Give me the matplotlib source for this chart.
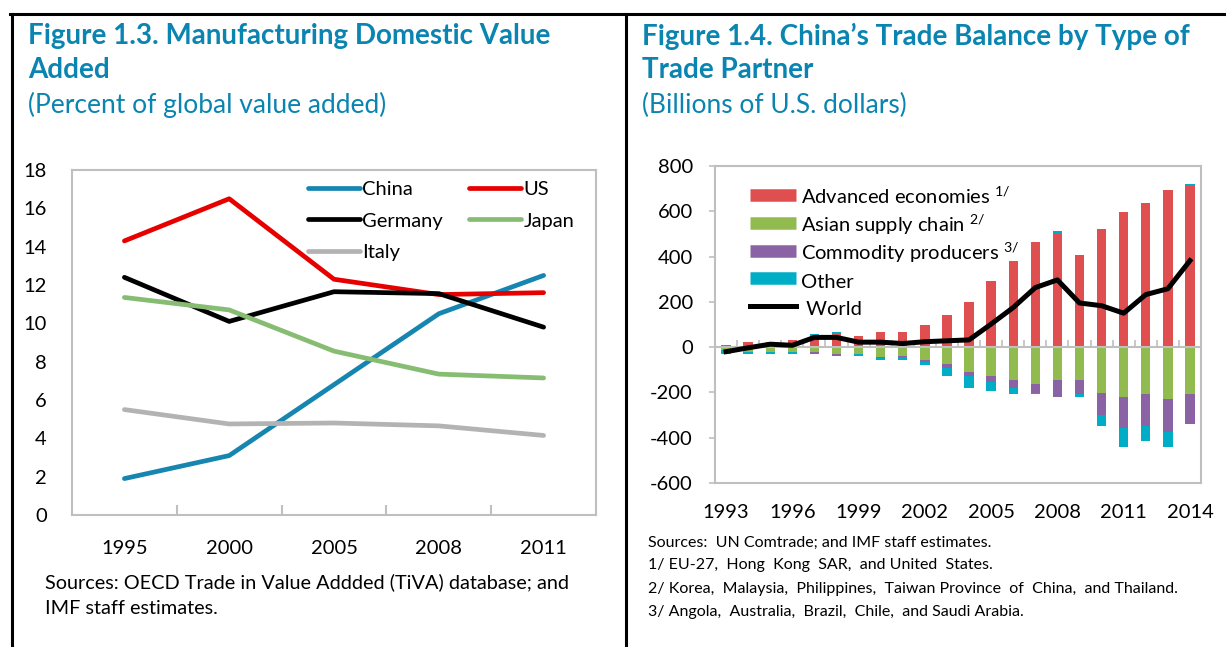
import matplotlib
matplotlib.use('Agg')
import matplotlib.pyplot as plt
import numpy as np
from matplotlib.lines import Line2D

plt.rcParams['font.family'] = ['Lato', 'DejaVu Sans']
plt.rcParams['mathtext.fontset'] = 'custom'
plt.rcParams['mathtext.rm'] = 'Lato'
plt.rcParams['mathtext.it'] = 'Lato:italic'
plt.rcParams['axes.unicode_minus'] = False

# ---------------- data: Figure 1.3 ----------------
left_years = ['1995', '2000', '2005', '2008', '2011']
china = [1.9, 3.1, 6.8, 10.5, 12.5]
us = [14.3, 16.5, 12.3, 11.5, 11.6]
germany = [12.4, 10.1, 11.65, 11.55, 9.8]
japan = [11.35, 10.7, 8.55, 7.35, 7.15]
italy = [5.5, 4.75, 4.8, 4.65, 4.15]
left_yticks = [0, 2, 4, 6, 8, 10, 12, 14, 16, 18]

# ---------------- data: Figure 1.4 ----------------
right_years = list(range(1993, 2015))
advanced = [9, 22, 24, 33, 48, 58, 50, 66, 66, 100, 143, 200, 291, 382, 464, 505, 405, 521, 595, 635, 692, 711]
other_pos = [0, 0, 0, 0, 10, 8, 0, 0, 0, 0, 0, 0, 0, 0, 0, 9, 0, 0, 0, 0, 0, 9]
asian = [-12, -20, -21, -21, -23, -31, -31, -42, -40, -57, -76, -110, -127, -145, -161, -145, -145, -202, -218, -209, -227, -209]
commodity = [0, 0, 0, 0, -8, -7, 0, -6, -5, -7, -18, -18, -25, -34, -42, -73, -63, -98, -139, -139, -148, -130]
other_neg = [-18, -12, -11, -11, 0, 0, -9, -8, -10, -15, -34, -51, -41, -29, -6, 0, -10, -50, -82, -67, -64, 0]
world = [-20, -3, 13, 8, 43, 43, 22, 22, 16, 24, 28, 32, 102, 175, 263, 297, 195, 183, 150, 232, 258, 382]
right_yticks = [-600, -400, -200, 0, 200, 400, 600, 800]
right_xlabels_every = 3

TITLE_C = '#0a84b0'
GRID_C = '#bfbfbf'
FS = 14.5

fig = plt.figure(figsize=(12.26, 6.47), dpi=100)


def fx(px):
    return px / 1226


def fy(py):
    return 1 - py / 647


# panel borders
fig.add_artist(Line2D([fx(10), 1.0], [fy(14)] * 2, color='black', lw=2.2, transform=fig.transFigure))
fig.add_artist(Line2D([fx(12)] * 2, [0, fy(14)], color='black', lw=2.2, transform=fig.transFigure))
fig.add_artist(Line2D([fx(626)] * 2, [0, fy(14)], color='black', lw=2.2, transform=fig.transFigure))

# titles
TFS = 20
SFS = 19
fig.text(fx(28), fy(36), 'Figure 1.3. Manufacturing Domestic Value', color=TITLE_C, fontsize=TFS,
         fontweight='bold', va='center', ha='left')
fig.text(fx(28), fy(70), 'Added', color=TITLE_C, fontsize=TFS, fontweight='bold', va='center', ha='left')
fig.text(fx(28), fy(105), '(Percent of global value added)', color=TITLE_C, fontsize=SFS, va='center', ha='left')

fig.text(fx(642), fy(36), 'Figure 1.4. China\u2019s Trade Balance by Type of', color=TITLE_C, fontsize=TFS,
         fontweight='bold', va='center', ha='left')
fig.text(fx(642), fy(70), 'Trade Partner', color=TITLE_C, fontsize=TFS, fontweight='bold', va='center', ha='left')
fig.text(fx(642), fy(105), '(Billions of U.S. dollars)', color=TITLE_C, fontsize=SFS, va='center', ha='left')

# ---------------- left chart ----------------
axL = fig.add_axes([fx(72), fy(515), fx(596 - 72), (515 - 170) / 647])
xl = np.arange(len(left_years))
series = [('China', china, '#1686b0'), ('US', us, '#e60000'), ('Germany', germany, '#000000'),
          ('Japan', japan, '#86bd72'), ('Italy', italy, '#b3b3b3')]
lines = {}
for name, vals, c in series:
    lines[name], = axL.plot(xl, vals, color=c, lw=3.4, label=name, solid_capstyle='round')
axL.set_xlim(-0.5, len(left_years) - 0.5)
axL.set_ylim(0, 18)
axL.set_yticks(left_yticks)
axL.set_xticks(xl)
axL.set_xticklabels(left_years)
axL.set_xticks(np.arange(0.5, len(left_years) - 0.5, 1), minor=True)
axL.tick_params(axis='x', which='major', length=0, pad=18, labelsize=FS)
axL.tick_params(axis='x', which='minor', length=7, direction='in', color=GRID_C, width=1.5)
axL.tick_params(axis='y', length=0, pad=18, labelsize=FS)
for s in axL.spines.values():
    s.set_color(GRID_C)
    s.set_linewidth(1.5)
order = ['China', 'Germany', 'Italy', 'US', 'Japan']  # column-major fill -> row-major look
axL.legend([lines[k] for k in order], order, ncol=2, loc='upper left', bbox_to_anchor=(0.415, 1.02),
           frameon=False, fontsize=FS, handlelength=2.6, columnspacing=1.3, handletextpad=0.1,
           labelspacing=0.7)

fig.text(fx(45), fy(582), 'Sources: OECD Trade in Value Addded (TiVA) database; and', fontsize=14.3,
         va='center', ha='left')
fig.text(fx(45), fy(608), 'IMF staff estimates.', fontsize=14.3, va='center', ha='left')

# ---------------- right chart ----------------
axR = fig.add_axes([fx(715), fy(483), fx(1201 - 715), (483 - 166) / 647])
xr = np.arange(len(right_years))
w = 0.42
c_adv, c_asia, c_com, c_oth = '#e04f4f', '#92bb4f', '#8b62a3', '#00adc6'
axR.bar(xr, advanced, w, color=c_adv)
axR.bar(xr, other_pos, w, bottom=advanced, color=c_oth)
axR.bar(xr, asian, w, color=c_asia)
axR.bar(xr, commodity, w, bottom=asian, color=c_com)
neg_base = np.array(asian) + np.array(commodity)
axR.bar(xr, other_neg, w, bottom=neg_base, color=c_oth)
axR.axhline(0, color=GRID_C, lw=1.5, zorder=2.5)
axR.plot(xr, world, color='black', lw=3.6, zorder=4, solid_joinstyle='round')
axR.set_xlim(-0.5, len(right_years) - 0.5)
axR.set_ylim(-600, 800)
axR.set_yticks(right_yticks)
axR.set_xticks(xr[::right_xlabels_every])
axR.set_xticklabels([str(y) for y in right_years[::right_xlabels_every]])
axR.tick_params(axis='x', length=0, pad=15, labelsize=FS)
axR.tick_params(axis='y', length=4, direction='out', color=GRID_C, width=1.2, pad=12, labelsize=FS)
for s in axR.spines.values():
    s.set_color(GRID_C)
    s.set_linewidth(1.5)
sec = axR.secondary_xaxis(0, transform=axR.transData)
sec.set_xticks(np.arange(0.5, len(right_years) - 0.5, 1))
sec.tick_params(axis='x', direction='in', length=5, color=GRID_C, width=1.2, labelbottom=False)
sec.spines['bottom'].set_visible(False)

handles = [Line2D([], [], color=c, lw=9, solid_capstyle='butt') for c in (c_adv, c_asia, c_com, c_oth)]
handles.append(Line2D([], [], color='black', lw=3.6))
labels = ['Advanced economies $^{1/}$', 'Asian supply chain $^{2/}$', 'Commodity producers $^{3/}$',
          'Other', ' World']
axR.legend(handles, labels, loc='upper left', bbox_to_anchor=(0.035, 0.995), frameon=False, fontsize=FS,
           handlelength=2.3, handleheight=1.42, handletextpad=0.25, labelspacing=0.19)

notes = ['Sources:  UN Comtrade; and IMF staff estimates.',
         '1/ EU-27,  Hong  Kong  SAR,  and United  States.',
         '2/ Korea,  Malaysia,  Philippines,  Taiwan Province  of  China,  and Thailand.',
         '3/ Angola,  Australia,  Brazil,  Chile,  and Saudi Arabia.']
for t, py in zip(notes, [543, 565, 589, 612]):
    fig.text(fx(648), fy(py), t, fontsize=11.5, va='center', ha='left')

fig.savefig('out.png', dpi=100)
